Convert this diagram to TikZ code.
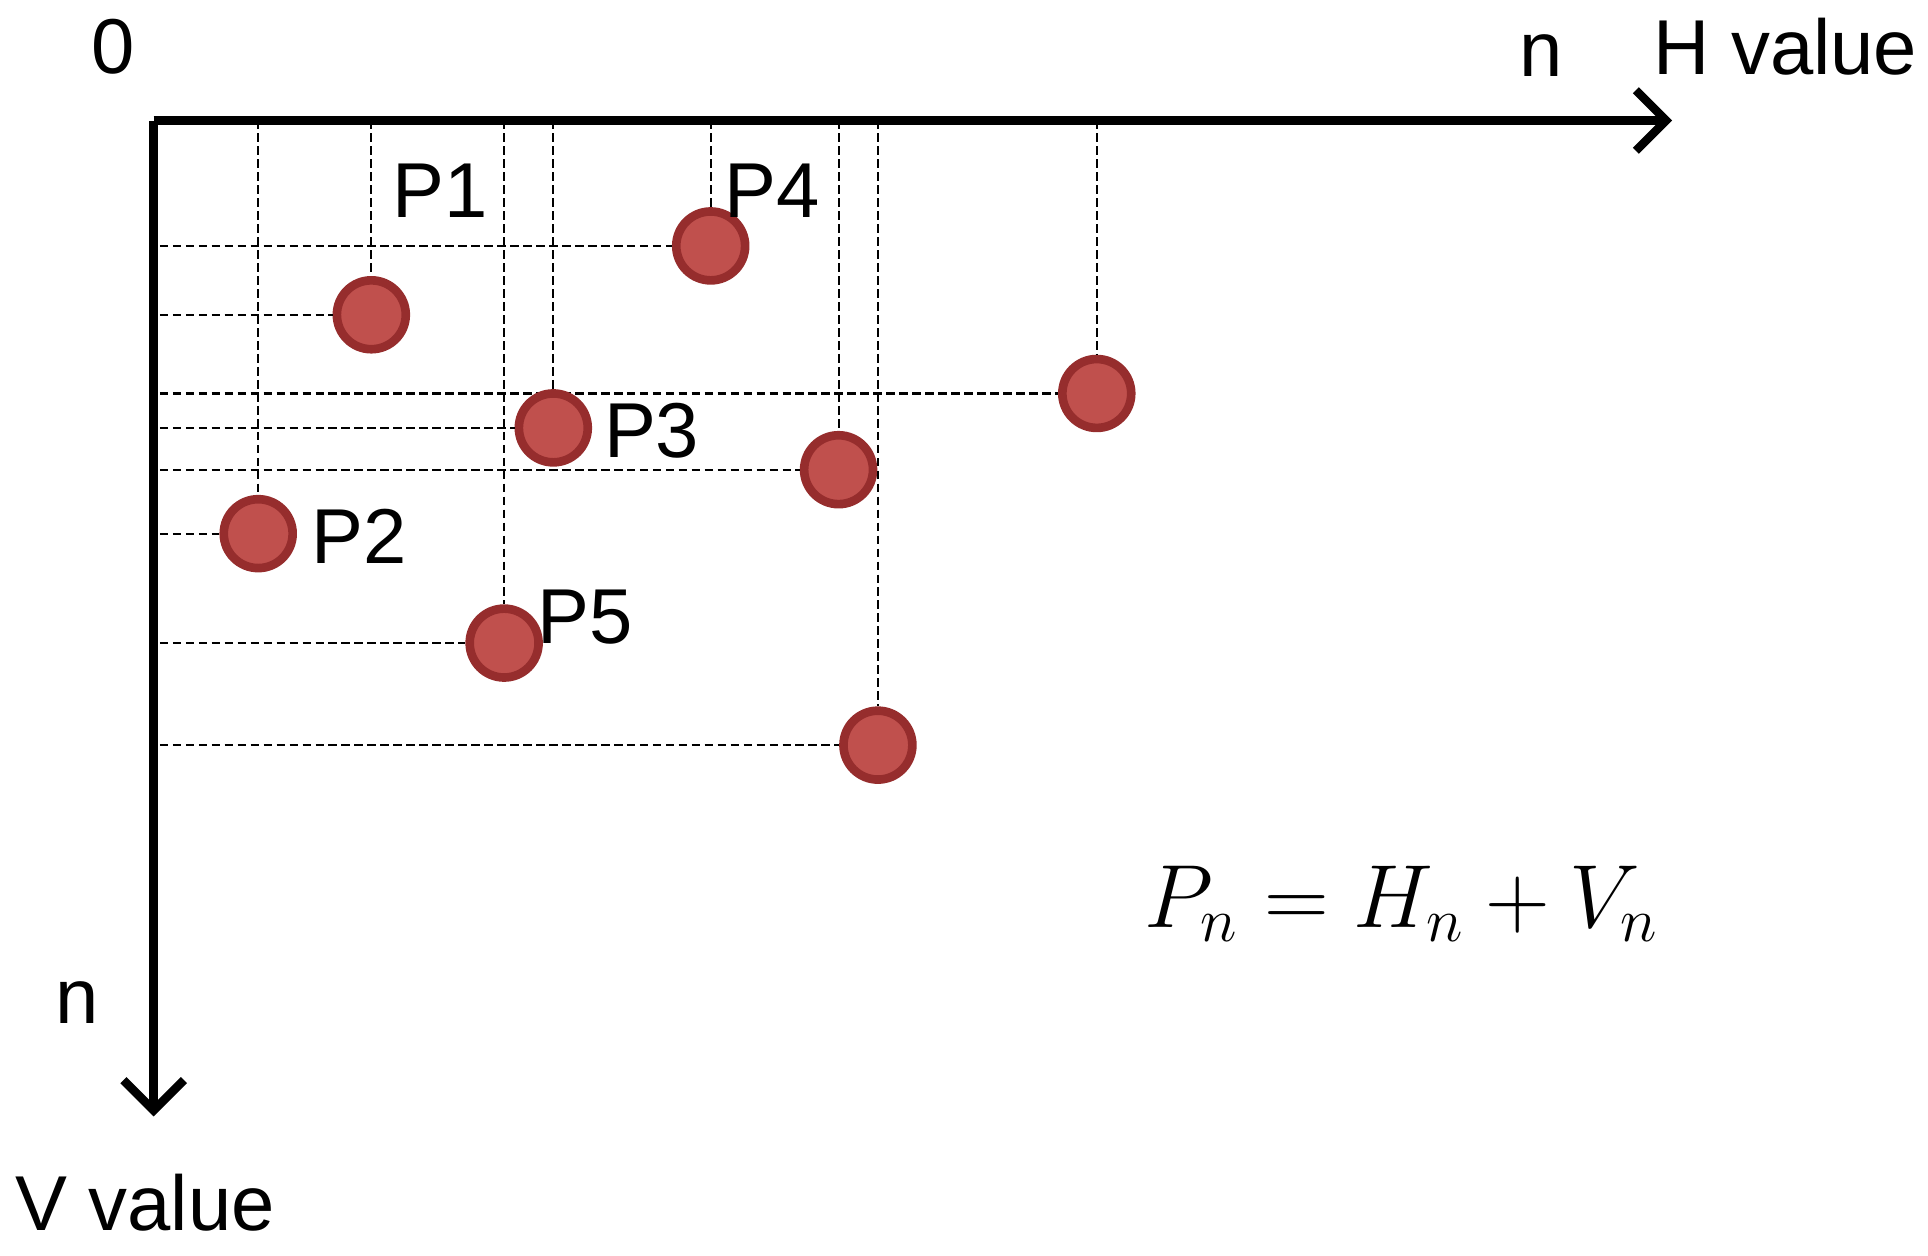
\documentclass[tikz,border=0pt]{standalone}
\usepackage{fontspec}
\setmainfont{Liberation Sans}
\usetikzlibrary{arrows.meta}
\definecolor{dotfill}{RGB}{192,80,77}
\definecolor{dotline}{RGB}{150,45,45}
\begin{document}
\begin{tikzpicture}[x=0.01cm,y=-0.01cm,
  dot/.style={circle,fill=dotfill,draw=dotline,line width=2pt,minimum size=0.56cm,inner sep=0pt},
  guide/.style={line width=0.5pt,dash pattern=on 2pt off 1pt},
  axis/.style={line width=2pt,-{Straight Barb[length=7pt,width=14pt,line width=2pt]}},
  lbl/.style={font=\fontsize{18}{20}\selectfont,inner sep=0pt}]
\useasboundingbox (0,0) rectangle (1568,1021);
\coordinate (O) at (125,98);
\coordinate (HE) at (1360,98);
\coordinate (VE) at (125,908);
\foreach \n/\x/\y in {a/578/200,b/302/256,c/892/320,d/450/348,e/682/382,f/210/434,g/410/523,h/714/606}{
  \node[dot] (\n) at (\x,\y) {};
  \coordinate (\n t) at (\x,98);
  \coordinate (\n l) at (130,\y);
  \draw[guide] (\n t) -- (\n.north);
  \draw[guide] (\n l) -- (\n.west);
}
\draw[axis] (O) -- (HE);
\draw[axis] (O) -- (VE);
\node[lbl] (zero) at (92,38) {0};
\node[lbl] (nh) at (1253,45) {n};
\node[lbl] (hv) at (1452,38) {H value};
\node[lbl] (nv) at (63,815) {n};
\node[lbl] (vv) at (118,978) {V value};
\node[lbl] (p1) at (358,155) {P1};
\node[lbl] (p4) at (628,155) {P4};
\node[lbl] (p3) at (530,350) {P3};
\node[lbl] (p2) at (292,436) {P2};
\node[lbl] (p5) at (476,502) {P5};
\node[inner sep=0pt,font=\fontsize{21}{24}\selectfont] (eq) at (1140,735) {$P_n = H_n + V_n$};
\end{tikzpicture}
\end{document}
